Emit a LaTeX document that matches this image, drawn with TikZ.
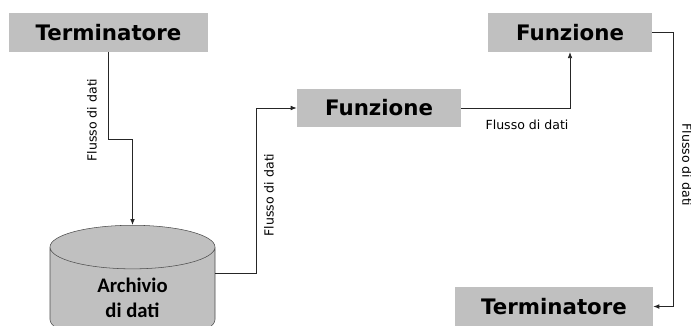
\documentclass[tikz,border=0pt]{standalone}
\usepackage{fontspec}
\setmainfont{DejaVu Sans}
\newfontfamily\carlito{Carlito}
\usetikzlibrary{shapes.geometric, arrows.meta}
\definecolor{grigio}{RGB}{192,192,192}

\begin{document}
\begin{tikzpicture}[x=0.75pt,y=-0.75pt,
  blocco/.style={fill=grigio, minimum height=29pt, inner sep=0pt,
    font=\bfseries\fontsize{16}{18}\selectfont},
  archtesto/.style={align=center, font=\carlito\bfseries\fontsize{15.5}{19}\selectfont},
  flusso/.style={font=\fontsize{9.4}{11}\selectfont, inner sep=0pt},
  freccia/.style={-{Latex[length=4.5pt,width=3.5pt]}, line width=0.6pt, black!85}]
\useasboundingbox (0,0) rectangle (691,325);
% blocchi
\node[blocco, minimum width=149pt] (term1) at (108.5,32.5) {Terminatore};
\node[blocco, minimum width=123pt, minimum height=28.5pt] (fun1) at (379,108) {Funzione};
\node[blocco, minimum width=123pt] (fun2) at (570,32.5) {Funzione};
\node[blocco, minimum width=148.5pt] (term2) at (554,306.5) {Terminatore};
% archivio
\node[cylinder, shape border rotate=90, draw=black!70, fill=grigio, aspect=0.55,
  minimum width=123.75pt, minimum height=87pt, anchor=north, archtesto]
  (archivio) at (132.5,225) {\phantom{Archivio}\\\phantom{di dati}};
\node[archtesto, inner sep=0pt] (archiviotesto) at (132.5,298) {Archivio\\di dati};
% flussi
\draw[freccia] (term1.south) -- ++(0,87) -| (archivio.north);
\draw[freccia] ([yshift=18pt]archivio.east) -- ++(41,0) |- (fun1.west);
\draw[freccia] (fun1.east) -| (fun2.south);
\draw[freccia] (fun2.east) -- ++(21,0) |- (term2.east);
\node[flusso, rotate=90] (f1) at (92,120) {Flusso di dati};
\node[flusso, rotate=90] (f2) at (269,195) {Flusso di dati};
\node[flusso] (f3) at (527,125) {Flusso di dati};
\node[flusso, rotate=-90] (f4) at (687,165) {Flusso di dati};
\end{tikzpicture}
\end{document}
